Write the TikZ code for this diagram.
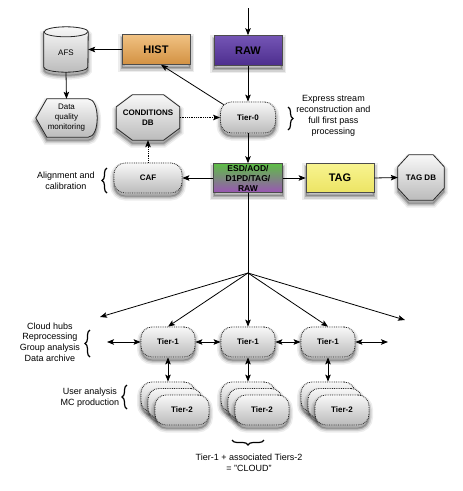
\documentclass[tikz,border=0pt]{standalone}
\usepackage{fontspec}
\setmainfont{Liberation Sans}
\usetikzlibrary{arrows.meta,calc,decorations.pathreplacing,shadows}
\definecolor{histT}{HTML}{F0C283}
\definecolor{histB}{HTML}{D39142}
\definecolor{rawT}{HTML}{7455B5}
\definecolor{rawB}{HTML}{4D2E8E}
\definecolor{tagT}{HTML}{F8F490}
\definecolor{tagB}{HTML}{ECE464}
\definecolor{esdT}{HTML}{5DBE45}
\definecolor{esdB}{HTML}{9A55B5}
\definecolor{grT}{HTML}{F8F8F8}
\definecolor{grB}{HTML}{BBBBBB}
\begin{document}
\begin{tikzpicture}[x=1pt,y=-1pt,
  arr/.style={line width=0.8pt,-{Stealth[length=7pt,width=5.5pt,inset=1.5pt]}},
  darr/.style={line width=0.8pt,{Stealth[length=7pt,width=5.5pt,inset=1.5pt]}-{Stealth[length=7pt,width=5.5pt,inset=1.5pt]}},
  dotarr/.style={arr,densely dotted},
  shadowed/.style={
    general shadow={shadow yshift=-3.5pt,draw=black,solid,line width=8pt,opacity=0.07},
    general shadow={shadow yshift=-3.5pt,draw=black,solid,line width=5pt,opacity=0.11},
    general shadow={shadow yshift=-3.5pt,draw=black,solid,line width=2pt,opacity=0.18,fill=black}},
  colbox/.style={draw=black!70,line width=0.6pt,minimum width=68pt,minimum height=30pt,font=\fontsize{11}{13}\selectfont\bfseries,shadowed},
  tier/.style={draw=black!85,densely dotted,line width=0.8pt,rounded corners=11pt,top color=grT,bottom color=grB,minimum width=54pt,minimum height=30pt,font=\fontsize{8}{10}\selectfont\bfseries,shadowed},
  grayshape/.style={draw=black!85,line width=0.8pt,top color=grT,bottom color=grB,shadowed},
  lbl/.style={font=\fontsize{8}{10}\selectfont\bfseries,align=center},
  plainlbl/.style={font=\fontsize{8}{10}\selectfont,align=center},
  note/.style={align=center,font=\fontsize{9}{10.8}\selectfont},
  brc/.style={decorate,decoration={brace,amplitude=5pt},line width=1.2pt},
]
\useasboundingbox (0,0) rectangle (463,491);
\fill[white] (0,0) rectangle (463,491);

% top colored boxes
\node[colbox,top color=rawT,bottom color=rawB] (raw) at (248,50.5) {RAW};
\node[colbox,top color=histT,bottom color=histB] (hist) at (156,49.5) {HIST};
\coordinate (in) at (248,8);
\draw[arr] (in) -- (raw.north);

% AFS cylinder
\node[minimum width=44pt,minimum height=45pt] (afs) at (66,49.5) {};
\path[grayshape] ($(afs.north west)+(0,5)$) -- ($(afs.south west)+(0,-5)$)
  arc[start angle=180,end angle=360,x radius=22pt,y radius=5pt]
  -- ($(afs.north east)+(0,5)$)
  arc[start angle=0,end angle=180,x radius=22pt,y radius=5pt] -- cycle;
\draw[line width=0.8pt,black!85] ($(afs.north west)+(0,5)$)
  arc[start angle=180,end angle=360,x radius=22pt,y radius=5pt];
\node[plainlbl] (afstext) at ($(afs)+(0,3)$) {AFS};
\draw[arr] (hist.west) -- (afs.east);

% Data quality monitoring (display shape)
\node[minimum width=61pt,minimum height=38pt] (dqm) at (66.5,118) {};
\path[grayshape] (dqm.west) -- ($(dqm.north west)+(11,0)$) -- ($(dqm.north east)+(-9,0)$)
  .. controls ($(dqm.north east)+(3,0)$) and ($(dqm.south east)+(3,0)$) .. ($(dqm.south east)+(-9,0)$)
  -- ($(dqm.south west)+(11,0)$) -- cycle;
\node[plainlbl] (dqmtext) at (dqm) {Data\\quality\\monitoring};
\draw[arr] (afs.south) -- (dqm.north);

% Conditions DB octagon
\node[minimum width=63pt,minimum height=45pt] (cdb) at (148,117.5) {};
\path[grayshape] ($(cdb.north west)+(16,0)$) -- ($(cdb.north east)+(-16,0)$) -- ($(cdb.north east)+(0,12)$)
  -- ($(cdb.south east)+(0,-12)$) -- ($(cdb.south east)+(-16,0)$) -- ($(cdb.south west)+(16,0)$)
  -- ($(cdb.south west)+(0,-12)$) -- ($(cdb.north west)+(0,12)$) -- cycle;
\node[lbl] (cdbtext) at (cdb) {CONDITIONS\\DB};

% Tier-0
\node[tier,minimum width=55pt,minimum height=31pt] (t0) at (248,117.5) {Tier-0};
\draw[arr] (raw.south) -- (t0.north);
\draw[arr] ($(t0.north west)+(3.5,3)$) -- ($(hist.south)+(5,0)$);
\draw[dotarr] (cdb.east) -- (t0.west);
\draw[brc] (288,107) -- (288,130);
\node[note,font=\fontsize{9}{11}\selectfont] (expr) at (333.5,116) {Express stream\\reconstruction and\\full first pass\\processing};

% ESD row
\node[colbox,top color=esdT,bottom color=esdB,minimum width=69pt,minimum height=29pt,font=\fontsize{8.5}{10}\selectfont\bfseries,align=center,inner sep=1pt] (esd) at (248,178) {ESD/AOD/\\D1PD/TAG/\\RAW};
\draw[arr] (t0.south) -- (esd.north);
\node[tier,minimum width=68pt,minimum height=30pt] (caf) at (148,178) {CAF};
\draw[arr] (esd.west) -- (caf.east);
\draw[dotarr] (caf.north) -- (cdb.south);
\draw[brc] (107,193) -- (107,168);
\node[note] (align) at (66,180.5) {Alignment and\\calibration};
\node[colbox,top color=tagT,bottom color=tagB,minimum width=68pt,minimum height=29pt] (tag) at (340,178) {TAG};
\draw[arr] (esd.east) -- (tag.west);

% TAG DB octagon
\node[minimum width=46pt,minimum height=45pt] (tagdb) at (421,177.5) {};
\path[grayshape] ($(tagdb.north west)+(11,0)$) -- ($(tagdb.north east)+(-11,0)$) -- ($(tagdb.north east)+(0,12)$)
  -- ($(tagdb.south east)+(0,-12)$) -- ($(tagdb.south east)+(-11,0)$) -- ($(tagdb.south west)+(11,0)$)
  -- ($(tagdb.south west)+(0,-12)$) -- ($(tagdb.north west)+(0,12)$) -- cycle;
\node[lbl] (tagdbtext) at (tagdb) {TAG DB};
\draw[arr] (tag.east) -- (tagdb.west);

% Tier-1 row
\node[tier] (t1a) at (168,342) {Tier-1};
\node[tier] (t1b) at (248,342) {Tier-1};
\node[tier] (t1c) at (328,342) {Tier-1};
\coordinate (hub) at (248,273);
\coordinate (lend) at (100,317);
\coordinate (rend) at (405,320);
\coordinate (hl) at (107,342);
\coordinate (hr) at (388,342);
\draw[line width=0.8pt] (esd.south) -- (hub);
\draw[arr] (hub) -- (lend);
\draw[arr] (hub) -- (t1a.north);
\draw[arr] (hub) -- (t1b.north);
\draw[arr] (hub) -- (t1c.north);
\draw[arr] (hub) -- (rend);
\draw[darr] (hl) -- (t1a.west);
\draw[darr] (t1a.east) -- (t1b.west);
\draw[darr] (t1b.east) -- (t1c.west);
\draw[darr] (t1c.east) -- (hr);
\draw[brc] (90,357) -- (90,330);
\node[note,font=\fontsize{9}{10.7}\selectfont] (hubs) at (50,342) {Cloud hubs\\Reprocessing\\Group analysis\\Data archive};

% Tier-2 stacks
\foreach \c/\n in {168/a,248/b,328/c}{
  \node[tier] (t2\n1) at (\c,397) {};
  \node[tier] (t2\n2) at (\c+7,403.5) {};
  \node[tier] (t2\n3) at (\c+14,410) {Tier-2};
}
\draw[darr] (t1a.south) -- (t2a1.north);
\draw[darr] (t1b.south) -- (t2b1.north);
\draw[darr] (t1c.south) -- (t2c1.north);
\draw[brc] (127,409) -- (127,385);
\node[note] (user) at (90,398) {User analysis\\MC production};
\draw[brc] (264,440) -- (232,440);
\node[note,font=\fontsize{9}{10.5}\selectfont] (cloud) at (249,463) {Tier-1 + associated Tiers-2\\= "CLOUD"};
\end{tikzpicture}
\end{document}
